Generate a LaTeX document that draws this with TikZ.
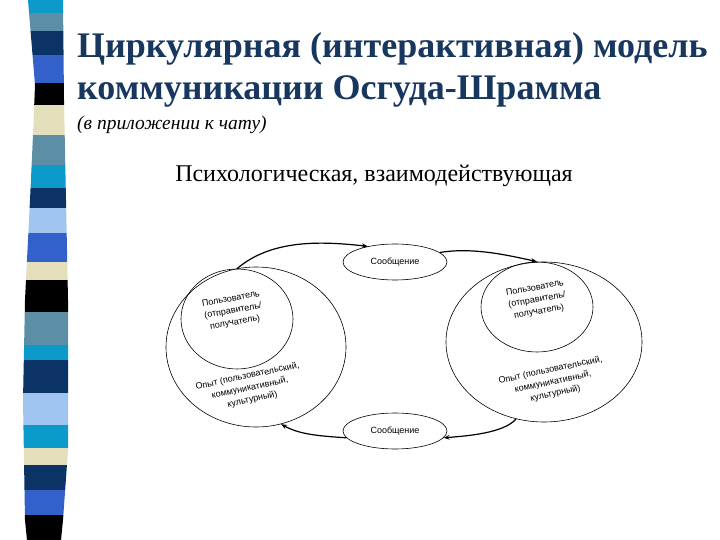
\documentclass[tikz,border=0pt]{standalone}
\usepackage{fontspec}
\setmainfont{Liberation Serif}
\newfontfamily\diagfont{Liberation Sans}
\usetikzlibrary{shapes.geometric,arrows.meta}

\definecolor{titleblue}{HTML}{17375E}
\definecolor{stripeteal}{HTML}{0C9ACB}
\definecolor{stripegray}{HTML}{5C8FA6}
\definecolor{stripenavy}{HTML}{0B3366}
\definecolor{striperoyal}{HTML}{3461C9}
\definecolor{stripebeige}{HTML}{E2DFBA}
\definecolor{stripelight}{HTML}{9FC4F0}

\tikzset{
  bubble/.style={draw, ellipse, line width=0.6pt, inner sep=0pt},
  msgbox/.style={bubble, minimum width=104pt, minimum height=36pt,
    font=\diagfont\fontsize{9}{10}\selectfont},
  bubbletext/.style={font=\diagfont\fontsize{9}{12}\selectfont, align=center, inner sep=0pt},
  flow/.style={line width=1.2pt, -{Stealth[length=6pt,width=4.5pt]}},
}

\begin{document}
\begin{tikzpicture}[x=1pt,y=-1pt]
	\useasboundingbox (0,0) rectangle (720,540);

	% striped band on the left
	\begin{scope}
		\clip (28,0) -- (35,85) -- (33,135) -- (30,200) -- (25,300) -- (23,400) -- (25,520) -- (27,540)
			-- (61,540) -- (63,520) -- (68,450) -- (68,300) -- (66,200) -- (64,100) -- (63,0) -- cycle;
		\foreach \ya/\yb/\col in {0/13/stripeteal, 13/31/stripegray, 31/55/stripenavy, 55/83/striperoyal,
				83/105/black, 105/135/stripebeige, 135/165/stripegray, 165/188/stripeteal,
				188/208/stripenavy, 208/233/stripelight, 233/262/striperoyal, 262/280/stripebeige,
				280/312/black, 312/345/stripegray, 345/360/stripeteal, 360/393/stripenavy,
				393/425/stripelight, 425/448/stripeteal, 448/465/stripebeige, 465/490/stripenavy,
				490/515/striperoyal, 515/540/black}
			\fill[\col] (0,\ya) rectangle (80,\yb);
	\end{scope}

	% headings
	\node[anchor=base west, inner sep=0pt, text=titleblue, font=\bfseries\fontsize{36}{42}\selectfont] (title1) at (77,58) {Циркулярная (интерактивная) модель};
	\node[anchor=base west, inner sep=0pt, text=titleblue, font=\bfseries\fontsize{36}{42}\selectfont] (title2) at (77,100) {коммуникации Осгуда-Шрамма};
	\node[anchor=base west, inner sep=0pt, font=\itshape\fontsize{19.5}{24}\selectfont] (subtitle) at (77,130) {(в приложении к чату)};
	\node[anchor=base, inner sep=0pt, font=\fontsize{24}{28}\selectfont] (kind) at (374,182) {Психологическая, взаимодействующая};

	% participants
	\node[bubble, minimum width=180pt, minimum height=160pt] (lexp) at (256,347) {};
	\node[bubble, minimum width=112pt, minimum height=100pt] (luser) at (237,319) {};
	\node[bubble, minimum width=196pt, minimum height=160pt] (rexp) at (544,342) {};
	\node[bubble, minimum width=112pt, minimum height=90pt] (ruser) at (537,307) {};

	\node[bubbletext, rotate=10] (lusertext) at (233,311) {Пользователь\\(отправитель/\\получатель)};
	\node[bubbletext, rotate=12] (lexptext) at (250,388) {Опыт (пользовательский,\\коммуникативный,\\культурный)};
	\node[bubbletext, rotate=10] (rusertext) at (537,300) {Пользователь\\(отправитель/\\получатель)};
	\node[bubbletext, rotate=12] (rexptext) at (553,382) {Опыт (пользовательский,\\коммуникативный,\\культурный)};

	% messages
	\node[msgbox] (msgtop) at (395,262) {Сообщение};
	\node[msgbox] (msgbot) at (395,431) {Сообщение};

	\draw[flow] (luser.north) .. controls +(35,-30) and +(-45,-5) .. (msgtop.150);
	\draw[flow] (msgtop.12) .. controls +(30,-5) and +(-35,-8) .. (ruser.north);
	\draw[flow] (rexp.250) .. controls +(-12,14) and +(25,-2) .. (msgbot.-8);
	\draw[flow] (msgbot.188) .. controls +(-30,-2) and +(18,10) .. (lexp.-72);
\end{tikzpicture}
\end{document}
